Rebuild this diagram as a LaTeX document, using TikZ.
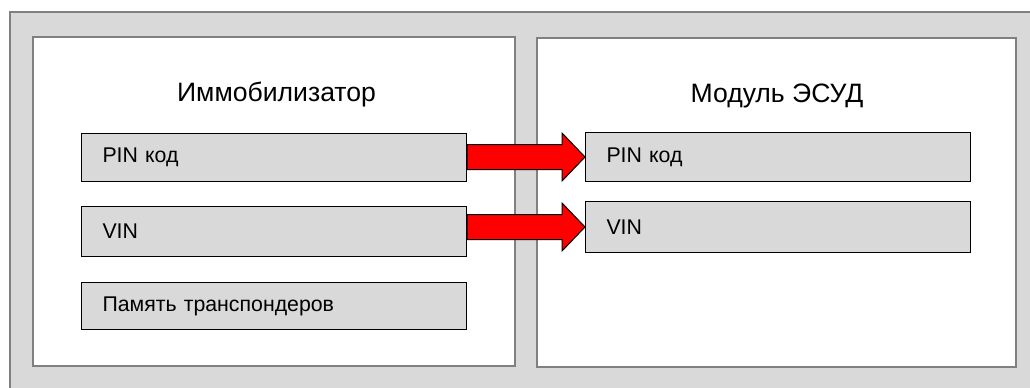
\documentclass[tikz,border=0pt]{standalone}
\usepackage{fontspec}
\setmainfont{Liberation Sans}
\usetikzlibrary{calc,positioning}

\definecolor{panelgray}{HTML}{D9D9D9}
\definecolor{framegray}{HTML}{808080}

\tikzset{
  frame/.style={draw=framegray,line width=1pt},
  title/.style={anchor=base,font=\fontsize{13.3}{16}\selectfont},
  field/.style={draw=black,fill=panelgray,line width=0.5pt,anchor=north west,
    inner xsep=10.5pt,inner ysep=0pt,text width=171.5pt,align=left,
    font=\fontsize{10.65}{13}\selectfont},
  fat arrow/.style={fill=red,draw=black,line width=0.5pt,line join=miter}
}

\begin{document}
\begin{tikzpicture}[
  x=0.5pt,y=-0.5pt
]%
  \useasboundingbox (0,0) rectangle (1030,387);

  % Background
  \filldraw[fill=panelgray,frame] (10,12) rectangle (1040,397);

  % Frames
  \filldraw[fill=white,frame] (33,37) rectangle (515,366);
  \filldraw[fill=white,frame] (537,38) rectangle (1016,367);

  % Titles
  \node[title] (immo title) at (276.5,101) {Иммобилизатор};
  \node[title] (ecu title) at (777,102) {Модуль ЭСУД};

  % Fields of the immobilizer
  \node[field,minimum height=24pt] (pinL) at (81,133) {PIN код};
  \node[field,minimum height=25pt] (vinL) at (81,206) {VIN};
  \node[field,minimum height=23.5pt] (memL) at (81,282) {Память транспондеров};

  % Fields of the ECU
  \node[field,minimum height=24.5pt] (pinR) at (585,132) {PIN код};
  \node[field,minimum height=25.5pt] (vinR) at (585,201) {VIN};

  % Transfer arrows
  \draw[fat arrow]
    ($(pinL.east |- pinR.west)+(0,-12.5)$) -- ($(pinR.west)+(-23,-12.5)$)
    -- ($(pinR.west)+(-23,-24)$) -- (pinR.west) -- ($(pinR.west)+(-23,24)$)
    -- ($(pinR.west)+(-23,12.5)$) -- ($(pinL.east |- pinR.west)+(0,12.5)$) -- cycle;
  \draw[fat arrow]
    ($(vinL.east |- vinR.west)+(0,-12.5)$) -- ($(vinR.west)+(-23,-12.5)$)
    -- ($(vinR.west)+(-23,-24)$) -- (vinR.west) -- ($(vinR.west)+(-23,24)$)
    -- ($(vinR.west)+(-23,12.5)$) -- ($(vinL.east |- vinR.west)+(0,12.5)$) -- cycle;
\end{tikzpicture}
\end{document}
